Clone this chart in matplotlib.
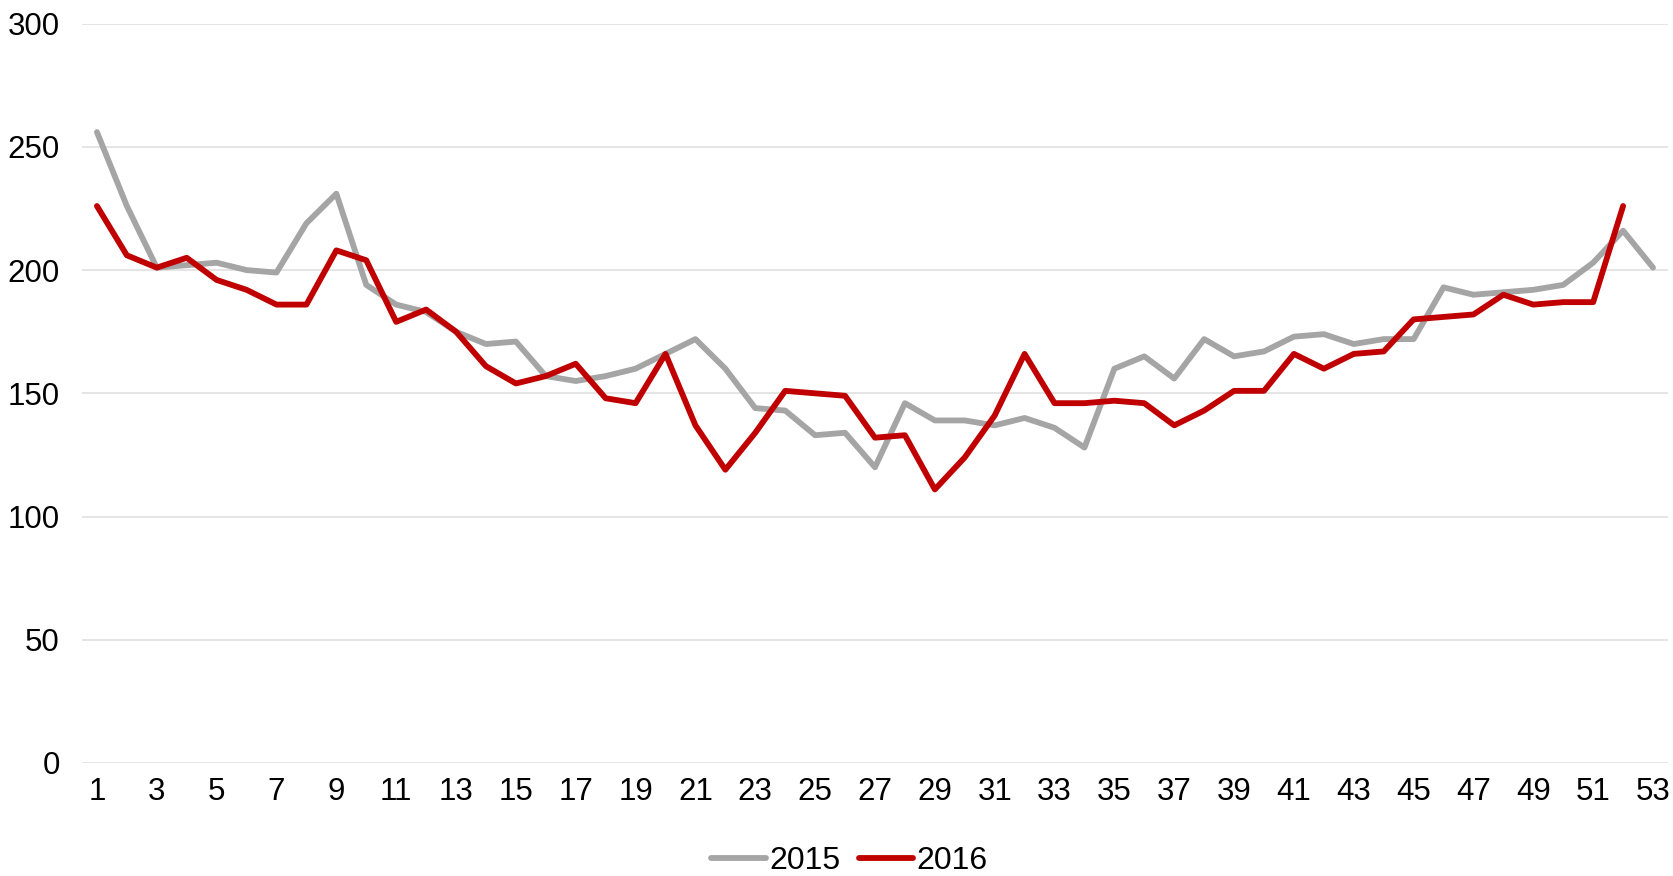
import numpy as np
import matplotlib
matplotlib.use('Agg')
import matplotlib.pyplot as plt

plt.rcParams['font.family'] = ['Liberation Sans', 'DejaVu Sans']

semanas = list(range(1, 54))

serie_2015 = [256, 226, 201, 202, 203, 200, 199, 219, 231, 194,
              186, 183, 175, 170, 171, 157, 155, 157, 160, 166,
              172, 160, 144, 143, 133, 134, 120, 146, 139, 139,
              137, 140, 136, 128, 160, 165, 156, 172, 165, 167,
              173, 174, 170, 172, 172, 193, 190, 191, 192, 194,
              203, 216, 201]

serie_2016 = [226, 206, 201, 205, 196, 192, 186, 186, 208, 204,
              179, 184, 175, 161, 154, 157, 162, 148, 146, 166,
              137, 119, 134, 151, 150, 149, 132, 133, 111, 124,
              141, 166, 146, 146, 147, 146, 137, 143, 151, 151,
              166, 160, 166, 167, 180, 181, 182, 190, 186, 187,
              187, 226]

fig = plt.figure(figsize=(16.73, 8.76), dpi=100)
ax = fig.add_axes([0.049, 0.129, 0.948, 0.844])

ax.plot(semanas, serie_2015, color='#A5A5A5', lw=4.2, label='2015',
        solid_joinstyle='round', solid_capstyle='round')
ax.plot(semanas[:len(serie_2016)], serie_2016, color='#C00000', lw=4.2, label='2016',
        solid_joinstyle='round', solid_capstyle='round')

ax.set_xlim(0.5, 53.5)
ax.set_ylim(0, 300)
ax.set_yticks(np.arange(0, 301, 50))
ax.set_xticks(semanas[::2])
ax.grid(axis='y', color='#E3E3E3', lw=1.3)
ax.set_axisbelow(True)
for s in ax.spines.values():
    s.set_visible(False)
ax.tick_params(length=0, labelsize=22.5, colors='black')
ax.tick_params(axis='x', pad=10)
ax.tick_params(axis='y', pad=16)

ax.legend(loc='upper center', bbox_to_anchor=(0.484, -0.082), ncol=2, frameon=False,
          fontsize=23, handlelength=1.7, handletextpad=0.1, columnspacing=0.6,
          borderpad=0.2)

fig.savefig('out.png', dpi=100)
